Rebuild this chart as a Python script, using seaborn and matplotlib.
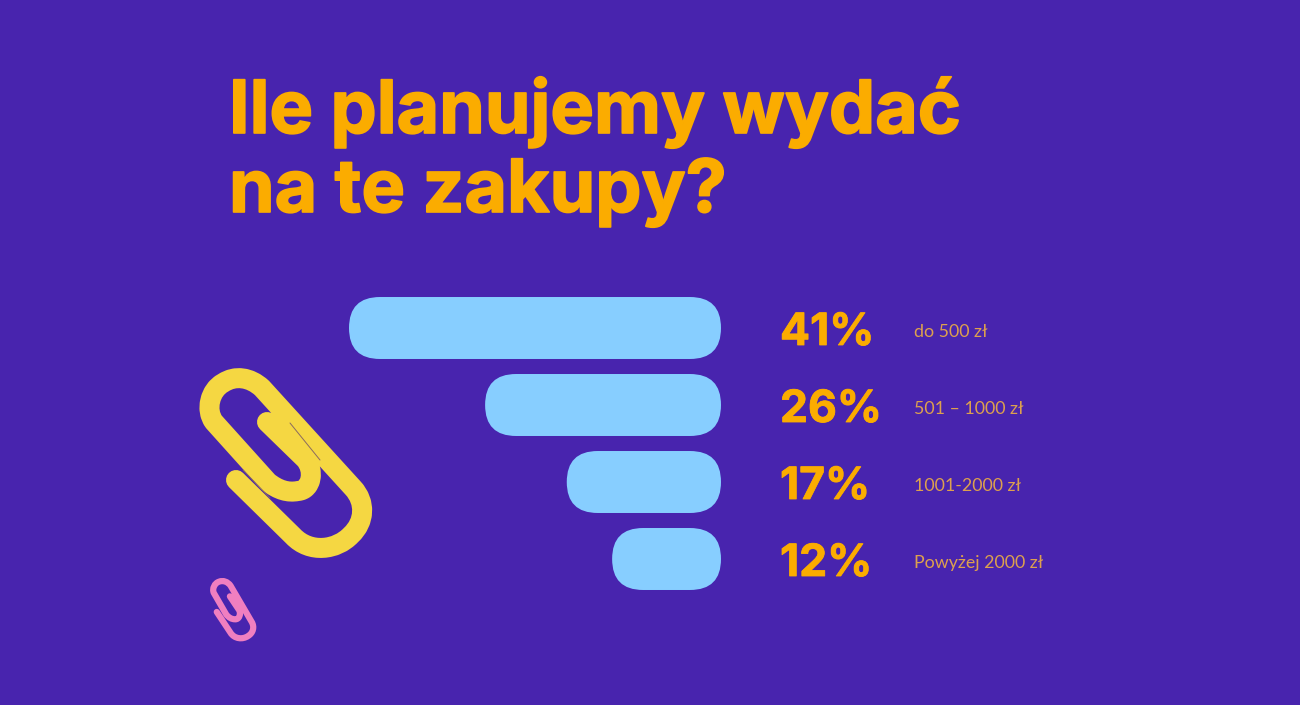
import matplotlib
matplotlib.use("Agg")
from matplotlib import pyplot as plt
from matplotlib import patheffects as pe
from matplotlib.patches import FancyBboxPatch, PathPatch
from matplotlib.path import Path
from matplotlib.transforms import Affine2D, IdentityTransform
import pandas as pd
import seaborn as sns

przedzialy = ["do 500 zł", "501 – 1000 zł", "1001-2000 zł", "Powyżej 2000 zł"]
udzialy = [41, 26, 17, 12]
tytul = ["Ile planujemy wydać", "na te zakupy?"]

TLO = "#4824AE"
POMARANCZ = "#FBAC00"
ETYKIETA = "#DDA04E"
BLEKIT = "#87CEFF"
ZOLTY = "#F5D742"
ROZ = "#F07FC0"

sns.set_theme(style="white")
plt.rcParams["font.family"] = ["Lato", "DejaVu Sans"]
GRUBA = ["Inter", "DejaVu Sans"]

W, H = 1300, 705
fig = plt.figure(figsize=(W / 100, H / 100), dpi=100, facecolor=TLO)

# axes placed so that the bars land where they are in the picture
ax = fig.add_axes([349 / W, 1 - 597.5 / H, 372 / W, 308 / H])
df = pd.DataFrame({"przedzial": przedzialy, "udzial": udzialy})
sns.barplot(data=df, x="udzial", y="przedzial", color=BLEKIT, saturation=1, width=0.805, ax=ax)
ax.set_xlim(max(udzialy), 0)
ax.set_ylim(len(udzialy) - 0.5, -0.5)
ax.axis("off")

# seaborn bars have square corners, swap them for rounded ones in pixel space
fig.canvas.draw()
for bar in list(ax.patches):
    (x0, y0), (x1, y1) = ax.transData.transform(bar.get_bbox().get_points())
    x0, x1 = sorted((x0, x1))
    y0, y1 = sorted((y0, y1))
    r = 31
    ax.add_patch(FancyBboxPatch((x0 + r, y0 + r), x1 - x0 - 2 * r, y1 - y0 - 2 * r,
                                boxstyle=f"round,pad={r},rounding_size={r}",
                                fc=BLEKIT, ec="none", transform=IdentityTransform(),
                                clip_on=False))
    bar.set_visible(False)

for i, (wartosc, nazwa) in enumerate(zip(udzialy, przedzialy)):
    ax.annotate(f"{wartosc}%", xy=(0, i), xytext=(59, -5), textcoords="offset pixels",
                color=POMARANCZ, fontsize=32, fontweight="bold", family=GRUBA,
                va="center", ha="left", annotation_clip=False,
                path_effects=[pe.withStroke(linewidth=0.6, foreground=POMARANCZ)])
    ax.annotate(nazwa, xy=(0, i), xytext=(193, -4), textcoords="offset pixels",
                color=ETYKIETA, fontsize=12.8, va="center", ha="left",
                annotation_clip=False)

# overlay in reference pixels for title and paper clips
nak = fig.add_axes([0, 0, 1, 1], zorder=-1)
nak.set_xlim(0, W)
nak.set_ylim(H, 0)
nak.axis("off")

tytul_efekt = [pe.withStroke(linewidth=1.2, foreground=POMARANCZ)]
nak.text(229, 133, tytul[0], color=POMARANCZ, fontsize=52.8, fontweight="bold", family=GRUBA,
         va="baseline", path_effects=tytul_efekt)
nak.text(229, 212, tytul[1], color=POMARANCZ, fontsize=52.8, fontweight="bold", family=GRUBA,
         va="baseline", path_effects=tytul_efekt)

M, L, C = Path.MOVETO, Path.LINETO, Path.CURVE4
spinacz = [
    (M, (77, 62)), (L, (115, 99)),
    (C, (125, 110)), (C, (122, 130)), (C, (108, 131)),
    (C, (98, 133)), (C, (88, 130)), (C, (78, 122)),
    (L, (24, 62)),
    (C, (15, 50)), (C, (20, 30)), (C, (33, 23)),
    (C, (45, 15)), (C, (60, 17)), (C, (72, 28)),
    (L, (163, 128)),
    (C, (176, 142)), (C, (175, 162)), (C, (161, 175)),
    (C, (147, 190)), (C, (120, 194)), (C, (103, 176)),
    (L, (46, 120)),
]
kody = [k for k, _ in spinacz]
punkty = [p for _, p in spinacz]
sciezka = Path(punkty, kody)


def rysuj_spinacz(transform, kolor, grubosc):
    nak.add_patch(PathPatch(transform.transform_path(sciezka), fill=False, ec=kolor,
                            lw=grubosc * 0.72, capstyle="round", joinstyle="round"))


pozycja = Affine2D().translate(190, 360)
rysuj_spinacz(pozycja, ZOLTY, 20)
# thin seams where the strands of the big clip touch
for a, b in [((53, 110), (80, 138)), ((100, 63), (130, 100))]:
    (xa, ya), (xb, yb) = pozycja.transform([a, b])
    nak.plot([xa, xb], [ya, yb], color="#8A6A60", lw=0.7)
rysuj_spinacz(Affine2D().translate(-96, -103).rotate_deg(12).scale(0.31).translate(233, 610), ROZ, 6.2)

plt.savefig("out.png", dpi=100, facecolor=TLO)
